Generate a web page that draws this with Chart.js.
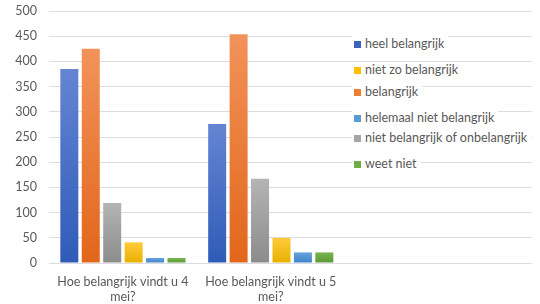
<!DOCTYPE html>
<html>
<head>
<meta charset="utf-8">
<script src="https://cdn.jsdelivr.net/npm/chart.js@4.4.1/dist/chart.umd.min.js"></script>
<style>
    html, body { margin: 0; padding: 0; background: #fff; }
    #wrap { position: relative; width: 540px; height: 304px; }
    #legend { position: absolute; left: 0; top: 0; width: 540px; height: 304px; pointer-events: none; }
    .lg-item {
        position: absolute; left: 352px; height: 16px; line-height: 16px;
        background: #fff; padding: 0 4px 0 2px; white-space: nowrap;
        font-family: Lato, sans-serif; font-size: 12.5px; color: #595959;
    }
    .lg-box { display: inline-block; width: 7px; height: 7px; margin-right: 4px; vertical-align: 0px; }
</style>
</head>
<body>
<div id="wrap">
    <canvas id="chart" width="540" height="304"></canvas>
    <div id="legend"></div>
</div>
<script>
var categories = [['Hoe belangrijk vindt u 4', 'mei?'], ['Hoe belangrijk vindt u 5', 'mei?']];
var seriesNames = ['heel belangrijk', 'belangrijk', 'niet belangrijk of onbelangrijk', 'niet zo belangrijk', 'helemaal niet belangrijk', 'weet niet'];
var heelBelangrijk = [385, 276];
var belangrijk = [425, 454];
var nietBelangrijkOfOnbelangrijk = [119, 167];
var nietZoBelangrijk = [41, 50];
var helemaalNietBelangrijk = [10, 21];
var weetNiet = [10, 21];
var yTicks = [0, 50, 100, 150, 200, 250, 300, 350, 400, 450, 500];

// legend shows the series in a different order than the bars
var legendOrder = [0, 3, 1, 4, 2, 5];
var legendY = [36, 62, 84, 110, 130, 156];

var seriesValues = [heelBelangrijk, belangrijk, nietBelangrijkOfOnbelangrijk, nietZoBelangrijk, helemaalNietBelangrijk, weetNiet];
var colors = [
    { top: '#6585d3', bottom: '#2f5bb8', flat: '#3a63bd' },
    { top: '#f2935a', bottom: '#e2661b', flat: '#ed7d31' },
    { top: '#b4b4b4', bottom: '#8c8c8c', flat: '#a5a5a5' },
    { top: '#ffcb3a', bottom: '#e9b000', flat: '#ffc000' },
    { top: '#66a3dd', bottom: '#3f82c9', flat: '#5b9bd5' },
    { top: '#78b44f', bottom: '#5c9a36', flat: '#70ad47' }
];

function gradientFor(i) {
    return (ctx) => {
        var chart = ctx.chart;
        if (!chart.chartArea || ctx.type !== 'data') return colors[i].flat;
        var y = chart.scales.y;
        var top = y.getPixelForValue(ctx.raw.y);
        var bottom = y.getPixelForValue(0);
        if (bottom - top < 1) return colors[i].flat;
        var g = chart.ctx.createLinearGradient(0, top, 0, bottom);
        g.addColorStop(0, colors[i].top);
        g.addColorStop(1, colors[i].bottom);
        return g;
    };
}

var datasets = seriesNames.map((name, i) => ({
    label: name,
    data: seriesValues[i].map((v, k) => ({ x: k, y: v })),
    backgroundColor: gradientFor(i),
    borderWidth: 0,
    categoryPercentage: 0.87,
    barPercentage: 0.84
}));

var ctx = document.getElementById('chart').getContext('2d');
var chart = new Chart(ctx, {
    type: 'bar',
    data: { datasets: datasets },
    options: {
        responsive: false,
        animation: false,
        layout: { padding: { top: 11, right: 8, left: 0, bottom: 0 } },
        plugins: { legend: { display: false }, tooltip: { enabled: false } },
        scales: {
            x: {
                type: 'linear',
                min: -0.5,
                max: 2.767,
                offset: false,
                afterBuildTicks: (scale) => { scale.ticks = categories.map((c, i) => ({ value: i })); },
                afterFit: (scale) => { scale.height = 41; scale.paddingLeft = 0; scale.paddingRight = 0; },
                grid: { display: false, drawTicks: false },
                border: { display: false },
                ticks: {
                    padding: 11,
                    maxRotation: 0,
                    autoSkip: false,
                    color: '#595959',
                    font: { family: 'Lato', size: 12.5, lineHeight: 1.2 },
                    callback: (v) => categories[v]
                }
            },
            y: {
                min: 0,
                max: 500,
                afterBuildTicks: (scale) => { scale.ticks = yTicks.map((v) => ({ value: v })); },
                afterFit: (scale) => { scale.width = 49; scale.paddingTop = 0; scale.paddingBottom = 0; },
                grid: { color: '#dcdce4', drawTicks: false },
                border: { display: false },
                ticks: {
                    padding: 12,
                    color: '#595959',
                    font: { family: 'Lato', size: 12.5 }
                }
            }
        }
    }
});

var legend = document.getElementById('legend');
legendOrder.forEach((idx, n) => {
    var item = document.createElement('div');
    item.className = 'lg-item';
    item.style.top = legendY[n] + 'px';
    item.innerHTML = `<span class="lg-box" style="background:${colors[idx].flat}"></span>${seriesNames[idx]}`;
    legend.appendChild(item);
});
</script>
</body>
</html>
